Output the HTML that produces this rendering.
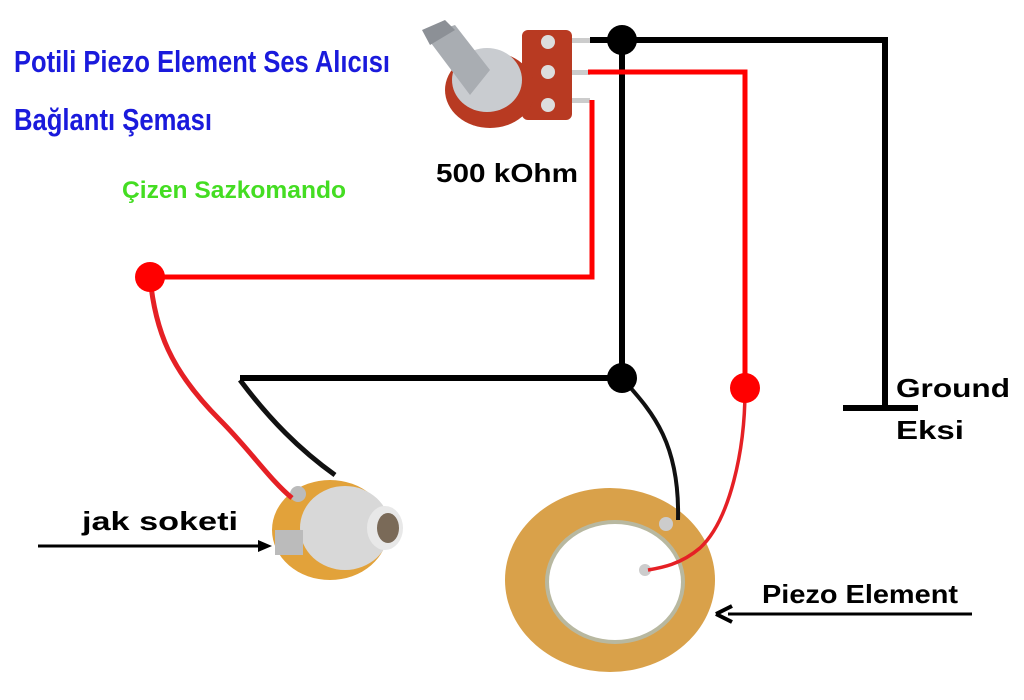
<!DOCTYPE html>
<html><head><meta charset="utf-8"><style>
body{margin:0;width:1024px;height:700px;background:#fff;overflow:hidden}
svg{display:block}
</style></head><body>
<svg width="1024" height="700" viewBox="0 0 1024 700" xmlns="http://www.w3.org/2000/svg">
<rect width="1024" height="700" fill="#fff"/>
<!-- pot -->
<rect x="522" y="30" width="50" height="90" rx="6" fill="#b83a22"/>
<circle cx="548" cy="42" r="7" fill="#ddd"/><circle cx="548" cy="72" r="7" fill="#ddd"/><circle cx="548" cy="105" r="7" fill="#ddd"/>
<rect x="572" y="38" width="18" height="5" fill="#ccc"/><rect x="572" y="70" width="18" height="5" fill="#ccc"/><rect x="572" y="98" width="18" height="5" fill="#ccc"/>
<ellipse cx="490" cy="90" rx="45" ry="38" fill="#b83a22"/>
<ellipse cx="487" cy="80" rx="35" ry="32" fill="#c9ccd0"/>
<path d="M425 35 L455 25 L490 70 L470 95 Z" fill="#a9adb2"/>
<path d="M422 30 L445 20 L455 30 L430 45 Z" fill="#8c9096"/>
<!-- jack -->
<ellipse cx="330" cy="530" rx="58" ry="50" fill="#e2a23a"/>
<ellipse cx="345" cy="528" rx="45" ry="42" fill="#d8d8d8"/>
<ellipse cx="385" cy="528" rx="18" ry="22" fill="#e8e8e8"/>
<ellipse cx="388" cy="528" rx="11" ry="15" fill="#7a6a58"/>
<rect x="275" y="530" width="28" height="25" fill="#bbb"/>
<circle cx="298" cy="494" r="8" fill="#bbb"/>
<!-- piezo -->
<ellipse cx="610" cy="580" rx="105" ry="92" fill="#d9a14a"/>
<ellipse cx="615" cy="582" rx="70" ry="62" fill="#b8b8a0"/>
<ellipse cx="615" cy="582" rx="66" ry="58" fill="#fff"/>
<circle cx="666" cy="524" r="7" fill="#ccc"/>
<circle cx="645" cy="570" r="6" fill="#ccc"/>
<!-- thin wires -->
<path d="M150 277 C155 330 170 370 220 420 C250 450 270 480 292 498" stroke="#e52025" stroke-width="5" fill="none"/>
<path d="M240 380 C270 420 300 450 335 475" stroke="#111" stroke-width="5" fill="none"/>
<path d="M622 378 C650 410 680 440 678 520" stroke="#111" stroke-width="4" fill="none"/>
<path d="M745 390 C745 450 730 520 700 548 C680 565 660 568 648 570" stroke="#e52025" stroke-width="3.5" fill="none"/>
<!-- thick wires -->
<path d="M590 40 H885 V405" stroke="#000" stroke-width="6" fill="none"/>
<line x1="843" y1="408" x2="918" y2="408" stroke="#000" stroke-width="6"/>
<line x1="622" y1="40" x2="622" y2="378" stroke="#000" stroke-width="6"/>
<line x1="240" y1="378" x2="622" y2="378" stroke="#000" stroke-width="6"/>
<path d="M588 72 H745 V388" stroke="#f00" stroke-width="5" fill="none"/>
<path d="M592 100 V277 H150" stroke="#f00" stroke-width="5" fill="none"/>
<circle cx="622" cy="40" r="15" fill="#000"/>
<circle cx="622" cy="378" r="15" fill="#000"/>
<circle cx="150" cy="277" r="15" fill="#f00"/>
<circle cx="745" cy="388" r="15" fill="#f00"/>
<!-- arrows -->
<line x1="38" y1="546" x2="262" y2="546" stroke="#000" stroke-width="3"/>
<path d="M272 546 L258 540 L258 552 Z" fill="#000"/>
<line x1="972" y1="614" x2="728" y2="614" stroke="#000" stroke-width="3"/>
<path d="M716 614 L732 606 M716 614 L732 622" stroke="#000" stroke-width="4" fill="none"/>
<!-- text -->
<g font-family="Liberation Sans, sans-serif" font-weight="bold">
<text x="14" y="72" fill="#1a1adc" font-size="31" textLength="376" lengthAdjust="spacingAndGlyphs">Potili Piezo Element Ses Alıcısı</text>
<text x="14" y="130" fill="#1a1adc" font-size="31" textLength="198" lengthAdjust="spacingAndGlyphs">Bağlantı Şeması</text>
<text x="122" y="198" fill="#44dd22" font-size="24" textLength="224" lengthAdjust="spacingAndGlyphs">Çizen Sazkomando</text>
<text x="436" y="182" fill="#000" font-size="26" textLength="142" lengthAdjust="spacingAndGlyphs">500 kOhm</text>
<text x="82" y="530" fill="#000" font-size="26" textLength="156" lengthAdjust="spacingAndGlyphs">jak soketi</text>
<text x="762" y="603" fill="#000" font-size="26" textLength="196" lengthAdjust="spacingAndGlyphs">Piezo Element</text>
<text x="896" y="397" fill="#000" font-size="26" textLength="114" lengthAdjust="spacingAndGlyphs">Ground</text>
<text x="896" y="439" fill="#000" font-size="26" textLength="68" lengthAdjust="spacingAndGlyphs">Eksi</text>
</g>
</svg>
</body></html>
